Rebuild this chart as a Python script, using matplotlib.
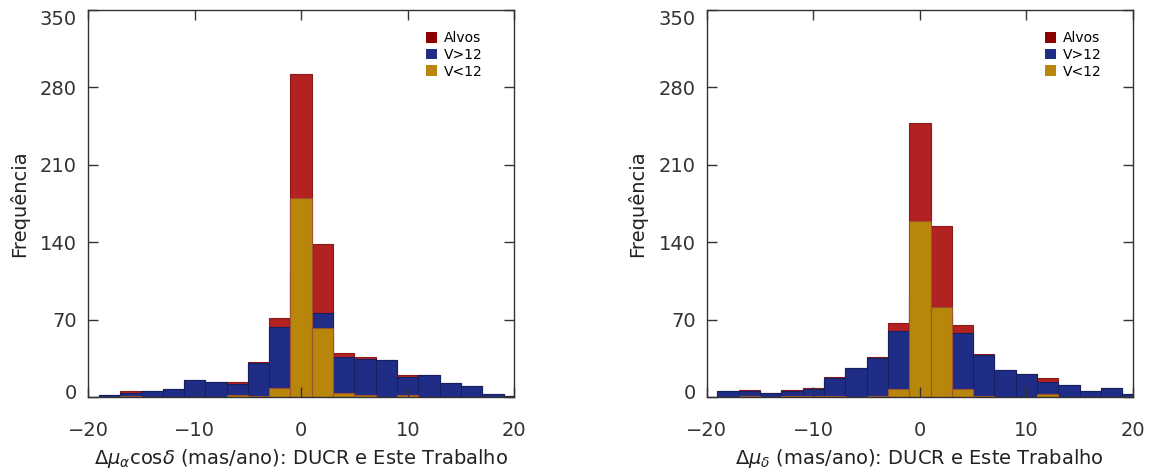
import numpy as np
import matplotlib
matplotlib.use("Agg")
import matplotlib.pyplot as plt
from matplotlib.patches import Patch
from matplotlib.transforms import ScaledTranslation

# bin left edges (width 2)
bin_left = list(range(-19, 20, 2))
bin_width = 2

# left panel: delta mu_alpha cos(delta)
alvos_ra = [2, 5, 5, 7, 15, 14, 14, 32, 71, 292, 138, 40, 36, 33, 20, 20, 13, 10, 3, 1]
vgt12_ra = [2, 4, 5, 7, 15, 14, 12, 31, 63, 112, 76, 36, 34, 33, 18, 20, 13, 10, 3, 1]
vlt12_ra = [0, 1, 0, 0, 0, 0, 2, 1, 8, 180, 62, 4, 2, 0, 2, 0, 0, 0, 0, 0]

# right panel: delta mu_delta
alvos_de = [5, 6, 4, 6, 8, 18, 26, 36, 67, 248, 155, 65, 39, 24, 21, 17, 11, 5, 8, 3]
vgt12_de = [5, 5, 4, 5, 7, 17, 26, 35, 60, 89, 74, 58, 38, 24, 21, 14, 11, 5, 8, 3]
vlt12_de = [0, 1, 0, 1, 1, 1, 0, 1, 7, 159, 81, 7, 1, 0, 0, 3, 0, 0, 0, 0]

xticks = [-20, -10, 0, 10, 20]
yticks = [0, 70, 140, 210, 280, 350]

red = "#B22222"
blue = "#1F2D87"
gold = "#B8860B"

plt.rcParams["mathtext.fontset"] = "dejavusans"

fig = plt.figure(figsize=(11.52, 4.76), dpi=100)
ax1 = fig.add_axes([0.0764, 0.166, 0.370, 0.813])
ax2 = fig.add_axes([0.6135, 0.166, 0.370, 0.813])

panels = [
    (ax1, alvos_ra, vgt12_ra, vlt12_ra,
     r"$\Delta\mu_\alpha$cos$\delta$ (mas/ano): DUCR e Este Trabalho"),
    (ax2, alvos_de, vgt12_de, vlt12_de,
     r"$\Delta\mu_\delta$ (mas/ano): DUCR e Este Trabalho"),
]

for ax, alvos, vgt, vlt, xlabel in panels:
    ax.bar(bin_left, alvos, width=bin_width, align="edge",
           color=red, edgecolor="#8B1A1A", linewidth=0.8)
    ax.bar(bin_left, vgt, width=bin_width, align="edge",
           color=blue, edgecolor="#15205E", linewidth=0.8)
    ax.bar(bin_left, vlt, width=bin_width, align="edge",
           color=gold, edgecolor="#A0522D", linewidth=0.8)

    ax.set_xlim(-20, 20)
    ax.set_ylim(0, 350)
    ax.set_xticks(xticks)
    ax.set_yticks(yticks)
    ax.tick_params(direction="in", length=7, width=1, top=True, right=True,
                   labelsize=14, colors="#333333")
    ax.tick_params(axis="x", pad=17)
    ax.tick_params(axis="y", pad=8)
    # nudge the end labels inside the axis height
    ylabels = ax.get_yticklabels()
    ylabels[0].set_transform(ylabels[0].get_transform()
                             + ScaledTranslation(0, 4 / 72, fig.dpi_scale_trans))
    ylabels[-1].set_verticalalignment("top")
    for s in ax.spines.values():
        s.set_color("#333333")
        s.set_linewidth(1)
    ax.set_xlabel(xlabel, fontsize=14, color="#222222", labelpad=5)
    ax.set_ylabel("Frequência", fontsize=14, color="#222222", labelpad=8)

    handles = [Patch(facecolor="#8B0000", edgecolor="none", label="Alvos"),
               Patch(facecolor=blue, edgecolor="none", label="V>12"),
               Patch(facecolor=gold, edgecolor="none", label="V<12")]
    ax.legend(handles=handles, loc="upper left", bbox_to_anchor=(0.78, 0.96),
              frameon=False, fontsize=10, handlelength=0.8, handleheight=0.8,
              handletextpad=0.5, labelspacing=0.2, borderaxespad=0)

fig.savefig("out.png", dpi=100)
